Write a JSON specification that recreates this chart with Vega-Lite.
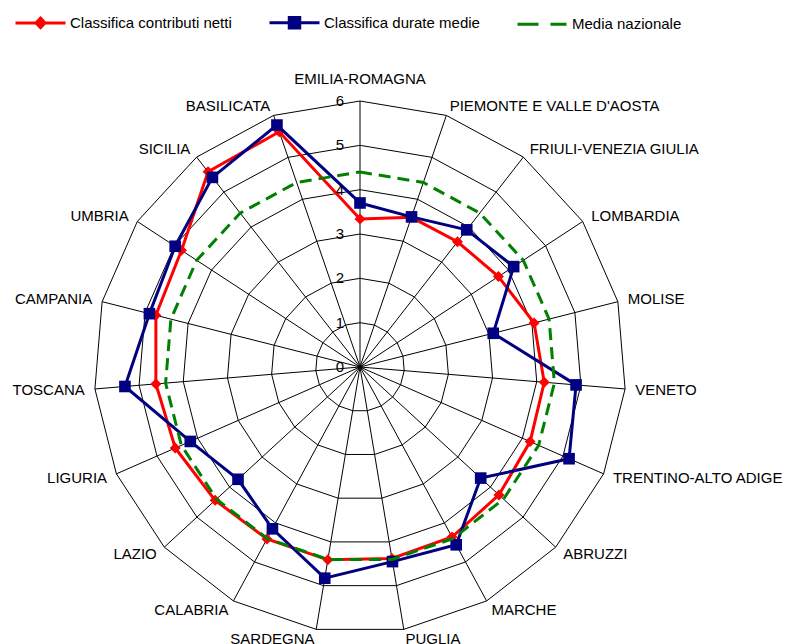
{
  "$schema": "https://vega.github.io/schema/vega-lite/v6.json",
  "width": 532,
  "height": 532,
  "autosize": "none",
  "padding": {"left": 94, "top": 101, "right": 166, "bottom": 11},
  "background": "white",
  "view": {"stroke": null},
  "config": {
    "font": "Liberation Sans",
    "text": {"font": "Liberation Sans", "fontSize": 15, "color": "black"},
    "legend": {"labelFont": "Liberation Sans"}
  },
  "datasets": {
    "regioni": [
      {"k": 0, "regione": "EMILIA-ROMAGNA", "contributi": 3.34, "durate": 3.70, "media": 4.4},
      {"k": 1, "regione": "PIEMONTE E VALLE D'AOSTA", "contributi": 3.57, "durate": 3.58, "media": 4.4},
      {"k": 2, "regione": "FRIULI-VENEZIA GIULIA", "contributi": 3.58, "durate": 3.92, "media": 4.4},
      {"k": 3, "regione": "LOMBARDIA", "contributi": 3.73, "durate": 4.14, "media": 4.4},
      {"k": 4, "regione": "MOLISE", "contributi": 4.05, "durate": 3.10, "media": 4.4},
      {"k": 5, "regione": "VENETO", "contributi": 4.17, "durate": 4.89, "media": 4.4},
      {"k": 6, "regione": "TRENTINO-ALTO ADIGE", "contributi": 4.19, "durate": 5.15, "media": 4.4},
      {"k": 7, "regione": "ABRUZZI", "contributi": 4.26, "durate": 3.70, "media": 4.4},
      {"k": 8, "regione": "MARCHE", "contributi": 4.36, "durate": 4.56, "media": 4.4},
      {"k": 9, "regione": "PUGLIA", "contributi": 4.38, "durate": 4.45, "media": 4.4},
      {"k": 10, "regione": "SARDEGNA", "contributi": 4.41, "durate": 4.83, "media": 4.4},
      {"k": 11, "regione": "CALABRIA", "contributi": 4.41, "durate": 4.15, "media": 4.4},
      {"k": 12, "regione": "LAZIO", "contributi": 4.44, "durate": 3.74, "media": 4.4},
      {"k": 13, "regione": "LIGURIA", "contributi": 4.55, "durate": 4.18, "media": 4.4},
      {"k": 14, "regione": "TOSCANA", "contributi": 4.62, "durate": 5.32, "media": 4.4},
      {"k": 15, "regione": "CAMPANIA", "contributi": 4.75, "durate": 4.90, "media": 4.4},
      {"k": 16, "regione": "UMBRIA", "contributi": 4.81, "durate": 4.98, "media": 4.4},
      {"k": 17, "regione": "SICILIA", "contributi": 5.58, "durate": 5.42, "media": 4.4},
      {"k": 18, "regione": "BASILICATA", "contributi": 5.61, "durate": 5.77, "media": 4.4}
    ],
    "tacche": [
      {"t": 0}, {"t": 1}, {"t": 2}, {"t": 3}, {"t": 4}, {"t": 5}, {"t": 6}
    ]
  },
  "layer": [
    {
      "data": {"name": "regioni"},
      "transform": [
        {"calculate": "datum.k * 2 * PI / 19", "as": "theta"},
        {"calculate": "[1,2,3,4,5,6]", "as": "lv"},
        {"flatten": ["lv"]},
        {"calculate": "datum.lv * sin(datum.theta)", "as": "gx"},
        {"calculate": "datum.lv * cos(datum.theta)", "as": "gy"}
      ],
      "mark": {"type": "line", "interpolate": "linear-closed", "color": "black", "strokeWidth": 1},
      "encoding": {
        "x": {"field": "gx", "type": "quantitative", "scale": {"domain": [-6, 6], "nice": false, "zero": false}, "axis": null},
        "y": {"field": "gy", "type": "quantitative", "scale": {"domain": [-6, 6], "nice": false, "zero": false}, "axis": null},
        "detail": {"field": "lv", "type": "nominal"},
        "order": {"field": "k", "type": "quantitative"}
      }
    },
    {
      "data": {"name": "regioni"},
      "transform": [
        {"calculate": "datum.k * 2 * PI / 19", "as": "theta"},
        {"calculate": "0", "as": "zero"},
        {"calculate": "6 * sin(datum.theta)", "as": "sx"},
        {"calculate": "6 * cos(datum.theta)", "as": "sy"}
      ],
      "mark": {"type": "rule", "color": "black", "strokeWidth": 1},
      "encoding": {
        "x": {"field": "zero", "type": "quantitative"},
        "y": {"field": "zero", "type": "quantitative"},
        "x2": {"field": "sx"},
        "y2": {"field": "sy"}
      }
    },
    {
      "data": {"name": "regioni"},
      "transform": [
        {"calculate": "datum.k * 2 * PI / 19", "as": "theta"},
        {"calculate": "datum.contributi * sin(datum.theta)", "as": "px"},
        {"calculate": "datum.contributi * cos(datum.theta)", "as": "py"}
      ],
      "layer": [
        {
          "mark": {"type": "line", "interpolate": "linear-closed", "color": "#FF0000", "strokeWidth": 3},
          "encoding": {
            "x": {"field": "px", "type": "quantitative"},
            "y": {"field": "py", "type": "quantitative"},
            "order": {"field": "k", "type": "quantitative"}
          }
        },
        {
          "mark": {"type": "point", "shape": "diamond", "filled": true, "size": 120, "color": "#FF0000", "opacity": 1},
          "encoding": {
            "x": {"field": "px", "type": "quantitative"},
            "y": {"field": "py", "type": "quantitative"}
          }
        }
      ]
    },
    {
      "data": {"name": "regioni"},
      "transform": [
        {"calculate": "datum.k * 2 * PI / 19", "as": "theta"},
        {"calculate": "datum.durate * sin(datum.theta)", "as": "px"},
        {"calculate": "datum.durate * cos(datum.theta)", "as": "py"}
      ],
      "layer": [
        {
          "mark": {"type": "line", "interpolate": "linear-closed", "color": "#000080", "strokeWidth": 3},
          "encoding": {
            "x": {"field": "px", "type": "quantitative"},
            "y": {"field": "py", "type": "quantitative"},
            "order": {"field": "k", "type": "quantitative"}
          }
        },
        {
          "mark": {"type": "point", "shape": "square", "filled": true, "size": 135, "color": "#000080", "opacity": 1},
          "encoding": {
            "x": {"field": "px", "type": "quantitative"},
            "y": {"field": "py", "type": "quantitative"}
          }
        }
      ]
    },
    {
      "data": {"name": "regioni"},
      "transform": [
        {"calculate": "datum.k * 2 * PI / 19", "as": "theta"},
        {"calculate": "datum.media * sin(datum.theta)", "as": "px"},
        {"calculate": "datum.media * cos(datum.theta)", "as": "py"}
      ],
      "mark": {"type": "line", "interpolate": "linear-closed", "color": "#008000", "strokeWidth": 3, "strokeDash": [12, 7]},
      "encoding": {
        "x": {"field": "px", "type": "quantitative"},
        "y": {"field": "py", "type": "quantitative"},
        "order": {"field": "k", "type": "quantitative"}
      }
    },
    {
      "data": {"name": "tacche"},
      "transform": [{"calculate": "0", "as": "zero"}],
      "mark": {"type": "text", "align": "right", "baseline": "middle", "dx": -16, "fontSize": 15},
      "encoding": {
        "x": {"field": "zero", "type": "quantitative"},
        "y": {"field": "t", "type": "quantitative"},
        "text": {"field": "t", "type": "quantitative", "format": "d"}
      }
    },
    {
      "data": {"name": "regioni"},
      "transform": [
        {"filter": "datum.k >= 1 && datum.k <= 9"},
        {"calculate": "datum.k * 2 * PI / 19", "as": "theta"},
        {"calculate": "6.23 * sin(datum.theta)", "as": "lx"},
        {"calculate": "6.23 * cos(datum.theta)", "as": "ly"}
      ],
      "mark": {"type": "text", "align": "left", "baseline": "middle", "fontSize": 15},
      "encoding": {
        "x": {"field": "lx", "type": "quantitative"},
        "y": {"field": "ly", "type": "quantitative"},
        "text": {"field": "regione", "type": "nominal"}
      }
    },
    {
      "data": {"name": "regioni"},
      "transform": [
        {"filter": "datum.k >= 10"},
        {"calculate": "datum.k * 2 * PI / 19", "as": "theta"},
        {"calculate": "6.23 * sin(datum.theta)", "as": "lx"},
        {"calculate": "6.23 * cos(datum.theta)", "as": "ly"}
      ],
      "mark": {"type": "text", "align": "right", "baseline": "middle", "fontSize": 15},
      "encoding": {
        "x": {"field": "lx", "type": "quantitative"},
        "y": {"field": "ly", "type": "quantitative"},
        "text": {"field": "regione", "type": "nominal"}
      }
    },
    {
      "data": {"name": "regioni"},
      "transform": [
        {"filter": "datum.k == 0"},
        {"calculate": "0", "as": "lx"},
        {"calculate": "6.49", "as": "ly"}
      ],
      "mark": {"type": "text", "align": "center", "baseline": "middle", "fontSize": 15},
      "encoding": {
        "x": {"field": "lx", "type": "quantitative"},
        "y": {"field": "ly", "type": "quantitative"},
        "text": {"field": "regione", "type": "nominal"}
      }
    },
    {
      "data": {"name": "regioni"},
      "transform": [{"filter": "false"}, {"calculate": "0", "as": "lx"}],
      "mark": {"type": "point", "filled": true, "opacity": 1},
      "encoding": {
        "x": {"field": "lx", "type": "quantitative"},
        "y": {"field": "lx", "type": "quantitative"},
        "fill": {
          "field": "serie", "type": "nominal",
          "scale": {"domain": ["Classifica contributi netti", "Classifica durate medie", "Media nazionale"], "range": ["#FF0000", "#000080", "#008000"]},
          "legend": {"title": null, "orient": "none", "legendX": -80, "legendY": -105, "direction": "horizontal", "symbolSize": 2500, "symbolStrokeWidth": 3, "labelFontSize": 15, "labelColor": "black", "labelOffset": 3, "labelLimit": 0, "columnPadding": 31, "padding": 0, "labelFont": "Liberation Sans"}
        },
        "stroke": {
          "field": "serie", "type": "nominal",
          "scale": {"domain": ["Classifica contributi netti", "Classifica durate medie", "Media nazionale"], "range": ["#FF0000", "#000080", "#008000"]},
          "legend": {"title": null, "orient": "none", "legendX": -80, "legendY": -105, "direction": "horizontal", "symbolSize": 2500, "symbolStrokeWidth": 3, "labelFontSize": 15, "labelColor": "black", "labelOffset": 3, "labelLimit": 0, "columnPadding": 31, "padding": 0, "labelFont": "Liberation Sans"}
        },
        "shape": {
          "field": "serie", "type": "nominal",
          "scale": {"domain": ["Classifica contributi netti", "Classifica durate medie", "Media nazionale"], "range": ["M-1,0H1M0,-0.19L0.18,0L0,0.19L-0.18,0Z", "M-1,0H1M-0.21,-0.21H0.21V0.21H-0.21Z", "M-1,0H-0.16M0.32,0H0.96"]},
          "legend": {"title": null, "orient": "none", "legendX": -80, "legendY": -105, "direction": "horizontal", "symbolSize": 2500, "symbolStrokeWidth": 3, "labelFontSize": 15, "labelColor": "black", "labelOffset": 3, "labelLimit": 0, "columnPadding": 31, "padding": 0, "labelFont": "Liberation Sans"}
        }
      }
    }
  ]
}
